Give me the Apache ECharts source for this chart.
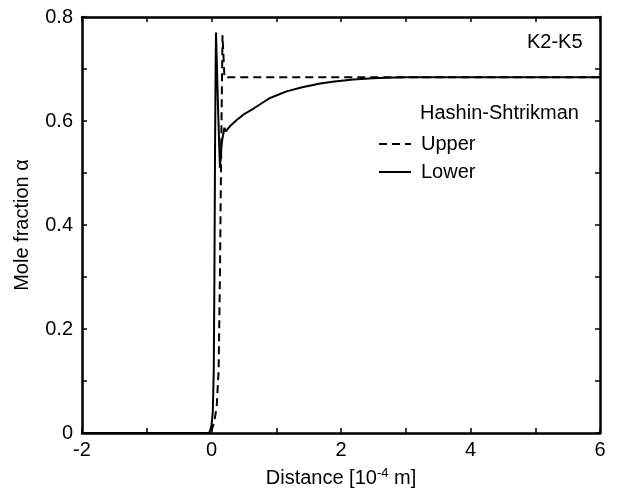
<!DOCTYPE html>
<html>
<head>
<meta charset="utf-8">
<script src="https://cdn.jsdelivr.net/npm/echarts@6/dist/echarts.min.js"></script>
<style>
  html, body { margin: 0; padding: 0; background: #fff; }
  #chart { width: 617px; height: 497px; }
</style>
</head>
<body>
<div id="chart"></div>
<script>
// Hashin-Shtrikman bounds, distance in 1e-4 m
const upperX = [-2, -0.02, 0.0, 0.04, 0.08, 0.11, 0.13, 0.15, 0.17, 0.2, 0.6, 6]
const upperY = [0, 0, 0.005, 0.02, 0.05, 0.12, 0.3, 0.55, 0.765, 0.684, 0.684, 0.684]

const lowerX = [-2, -0.04, -0.02, 0.0, 0.02, 0.035, 0.045, 0.055, 0.065, 0.07, 0.1, 0.13, 0.16, 0.2, 0.22,
  0.3, 0.39, 0.5, 0.65, 0.8, 0.9, 1.0, 1.16, 1.4, 1.68, 1.9, 2.19, 2.5, 2.7, 3.0, 6]
const lowerY = [0, 0, 0.005, 0.015, 0.04, 0.12, 0.3, 0.55, 0.72, 0.77, 0.63, 0.51, 0.56, 0.587, 0.58,
  0.592, 0.602, 0.613, 0.624, 0.636, 0.644, 0.649, 0.657, 0.665, 0.672, 0.676, 0.68, 0.682, 0.683, 0.684, 0.684]

const font = 'Liberation Sans, Arial, sans-serif'
const fs = 20

function pairs(xs, ys) {
  return xs.map((x, i) => [x, ys[i]])
}

function isMajor(v, step) {
  const k = v / step
  return Math.abs(k - Math.round(k)) < 1e-6
}

const chart = echarts.init(document.getElementById('chart'))

const axisCommon = {
  axisLine: { show: true, onZero: false, lineStyle: { color: '#000', width: 2.5 } },
  axisTick: { show: true, inside: true, length: 5, lineStyle: { color: '#000', width: 1.5 } },
  splitLine: { show: false }
}

chart.setOption({
  backgroundColor: '#fff',
  animation: false,
  grid: { left: 82, right: 17, top: 17, bottom: 64 },
  xAxis: [
    {
      type: 'value', min: -2, max: 6, interval: 1, position: 'bottom',
      ...axisCommon,
      axisLabel: {
        color: '#000', fontSize: fs, fontFamily: font, margin: 7,
        formatter: v => isMajor(v, 2) ? String(v) : ''
      },
      name: 'Distance [10{sup|-4} m]',
      nameLocation: 'middle',
      nameGap: 34,
      nameTextStyle: {
        color: '#000', fontSize: fs, fontFamily: font,
        rich: { sup: { fontSize: 13, verticalAlign: 'top', padding: [0, 0, 10, 0], color: '#000', fontFamily: font } }
      }
    },
    {
      type: 'value', min: -2, max: 6, interval: 1, position: 'top',
      ...axisCommon,
      axisLabel: { show: false }
    }
  ],
  yAxis: [
    {
      type: 'value', min: 0, max: 0.8, interval: 0.1, position: 'left',
      ...axisCommon,
      axisLabel: {
        color: '#000', fontSize: fs, fontFamily: font, margin: 9,
        formatter: v => isMajor(v, 0.2) ? String(Math.round(v * 10) / 10) : ''
      },
      name: 'Mole fraction α',
      nameLocation: 'middle',
      nameGap: 50,
      nameTextStyle: { color: '#000', fontSize: fs, fontFamily: font }
    },
    {
      type: 'value', min: 0, max: 0.8, interval: 0.1, position: 'right',
      ...axisCommon,
      axisLabel: { show: false }
    }
  ],
  legend: {
    orient: 'vertical',
    left: 378,
    top: 134,
    padding: 0,
    itemWidth: 32,
    itemHeight: 10,
    itemGap: 8,
    itemStyle: { opacity: 0 },
    textStyle: { color: '#000', fontSize: fs, fontFamily: font, padding: [0, 0, 0, 5] },
    data: ['Upper', 'Lower']
  },
  graphic: [
    {
      type: 'text', left: 420, top: 103,
      style: { text: 'Hashin-Shtrikman', fill: '#000', font: fs + 'px ' + font }
    },
    {
      type: 'text', left: 527, top: 32,
      style: { text: 'K2-K5', fill: '#000', font: fs + 'px ' + font }
    }
  ],
  series: [
    {
      name: 'Upper', type: 'line', symbol: 'none',
      data: pairs(upperX, upperY),
      lineStyle: { color: '#000', width: 2, type: [8, 5] },
      itemStyle: { color: '#000' }
    },
    {
      name: 'Lower', type: 'line', symbol: 'none',
      data: pairs(lowerX, lowerY),
      lineStyle: { color: '#000', width: 2 },
      itemStyle: { color: '#000' }
    }
  ]
})
</script>
</body>
</html>
